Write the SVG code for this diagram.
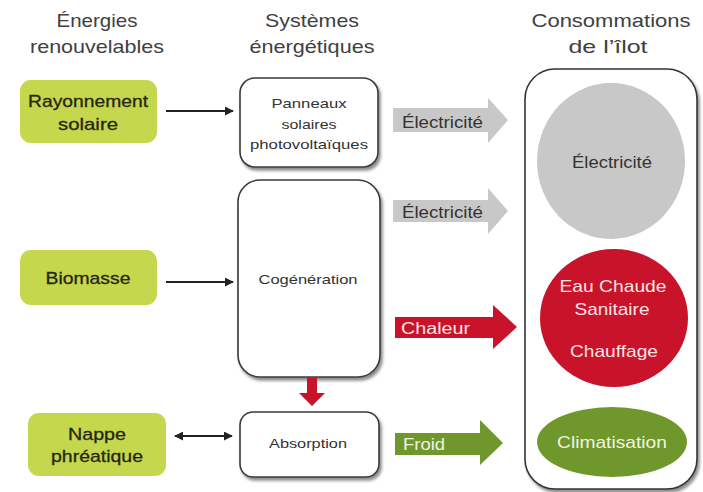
<svg xmlns="http://www.w3.org/2000/svg" width="703" height="492" viewBox="0 0 703 492">
<style>
text{font-family:"Liberation Sans",Arial,sans-serif;text-anchor:middle}
.hd{font-size:19px;fill:#404040}
.src rect{fill:#c5d74c}
.src text{font-size:17px;fill:#262614;stroke:#262614;stroke-width:0.3}
.sys rect{fill:#fff;stroke:#3a3a3a;stroke-width:1.6}
.sys text{font-size:13px;fill:#333}
.flow text{font-size:16px;text-anchor:start}
.ln{stroke:#222;stroke-width:2;fill:none}
</style>
<defs>
<filter id="sh" x="-10%" y="-10%" width="130%" height="130%">
<feDropShadow dx="2" dy="3" stdDeviation="1.5" flood-color="#000" flood-opacity="0.45"/>
</filter>
<marker id="ah" viewBox="0 0 10 10" refX="9" refY="5" markerWidth="4.5" markerHeight="4.5" orient="auto-start-reverse">
<path d="M0,0L10,5L0,10z" fill="#222"/>
</marker>
</defs>

<g id="headers">
<text class="hd" x="97" y="27" textLength="81" lengthAdjust="spacingAndGlyphs">Énergies</text>
<text class="hd" x="97" y="53" textLength="134" lengthAdjust="spacingAndGlyphs">renouvelables</text>
<text class="hd" x="312" y="27" textLength="94" lengthAdjust="spacingAndGlyphs">Systèmes</text>
<text class="hd" x="312" y="53" textLength="125" lengthAdjust="spacingAndGlyphs">énergétiques</text>
<text class="hd" x="611" y="27" textLength="159" lengthAdjust="spacingAndGlyphs">Consommations</text>
<text class="hd" x="608" y="53" textLength="79" lengthAdjust="spacingAndGlyphs">de l’îlot</text>
</g>

<g id="container">
<rect x="525" y="69" width="172" height="420" rx="30" fill="#fff" stroke="#333" stroke-width="1.6" filter="url(#sh)"/>
</g>

<g id="rayonnement" class="src">
<rect x="20" y="80" width="137" height="63" rx="11"/>
<text x="88" y="107" textLength="120" lengthAdjust="spacingAndGlyphs">Rayonnement</text>
<text x="88" y="130" textLength="60" lengthAdjust="spacingAndGlyphs">solaire</text>
</g>
<g id="biomasse" class="src">
<rect x="20" y="250" width="137" height="55" rx="11"/>
<text x="88" y="284" textLength="85" lengthAdjust="spacingAndGlyphs">Biomasse</text>
</g>
<g id="nappe" class="src">
<rect x="28" y="413" width="138" height="63" rx="11"/>
<text x="97" y="440" textLength="58" lengthAdjust="spacingAndGlyphs">Nappe</text>
<text x="97" y="462" textLength="92" lengthAdjust="spacingAndGlyphs">phréatique</text>
</g>

<g id="panneaux" class="sys">
<rect x="240" y="78" width="138" height="89" rx="15" filter="url(#sh)"/>
<text x="309" y="108" textLength="75" lengthAdjust="spacingAndGlyphs">Panneaux</text>
<text x="309" y="129" textLength="55" lengthAdjust="spacingAndGlyphs">solaires</text>
<text x="309" y="149" textLength="118" lengthAdjust="spacingAndGlyphs">photovoltaïques</text>
</g>
<g id="cogeneration" class="sys">
<rect x="238" y="180" width="142" height="197" rx="22" filter="url(#sh)"/>
<text x="308" y="284" textLength="99" lengthAdjust="spacingAndGlyphs">Cogénération</text>
</g>
<g id="absorption" class="sys">
<rect x="240" y="412" width="139" height="65" rx="13" filter="url(#sh)"/>
<text x="308" y="448" textLength="78" lengthAdjust="spacingAndGlyphs">Absorption</text>
</g>

<g id="conso-electricite">
<ellipse cx="611" cy="161" rx="74" ry="78" fill="#c8c8c8"/>
<text x="612" y="168" font-size="16" fill="#333" textLength="80" lengthAdjust="spacingAndGlyphs">Électricité</text>
</g>
<g id="conso-chaleur">
<ellipse cx="614" cy="318" rx="74" ry="69" fill="#c8132a"/>
<text x="613" y="292" font-size="17" fill="#fbe4e4" textLength="107" lengthAdjust="spacingAndGlyphs">Eau Chaude</text>
<text x="612" y="315" font-size="17" fill="#fbe4e4" textLength="75" lengthAdjust="spacingAndGlyphs">Sanitaire</text>
<text x="614" y="357" font-size="17" fill="#fbe4e4" textLength="88" lengthAdjust="spacingAndGlyphs">Chauffage</text>
</g>
<g id="conso-climatisation">
<ellipse cx="612" cy="442" rx="75" ry="35" fill="#6f972c"/>
<text x="612" y="448" font-size="17" fill="#eef5e0" textLength="110" lengthAdjust="spacingAndGlyphs">Climatisation</text>
</g>

<g id="connectors">
<line class="ln" x1="166" y1="111" x2="233" y2="111" marker-end="url(#ah)"/>
<line class="ln" x1="166" y1="282" x2="233" y2="282" marker-end="url(#ah)"/>
<line class="ln" x1="175" y1="436" x2="232" y2="436" marker-start="url(#ah)" marker-end="url(#ah)"/>
<path d="M307,377H317V393H325L312,406L299,393H307z" fill="#c8132a"/>
<g class="flow">
<path d="M393,108H488V98L508,120L488,143V132H393z" fill="#c8c8c8"/>
<text x="402" y="128" fill="#333" textLength="81" lengthAdjust="spacingAndGlyphs">Électricité</text>
<path d="M393,200H488V188L508,211L488,234V222H393z" fill="#c8c8c8"/>
<text x="402" y="218" fill="#333" textLength="81" lengthAdjust="spacingAndGlyphs">Électricité</text>
<path d="M395,317H493V305L517,327L493,349V338H395z" fill="#c8132a"/>
<text x="401" y="334" fill="#fbe4e4" textLength="69" lengthAdjust="spacingAndGlyphs">Chaleur</text>
<path d="M395,433H480V420L503,443L480,465V455H395z" fill="#6f972c"/>
<text x="403" y="450" fill="#eef5e0" textLength="42" lengthAdjust="spacingAndGlyphs">Froid</text>
</g>
</g>
</svg>
